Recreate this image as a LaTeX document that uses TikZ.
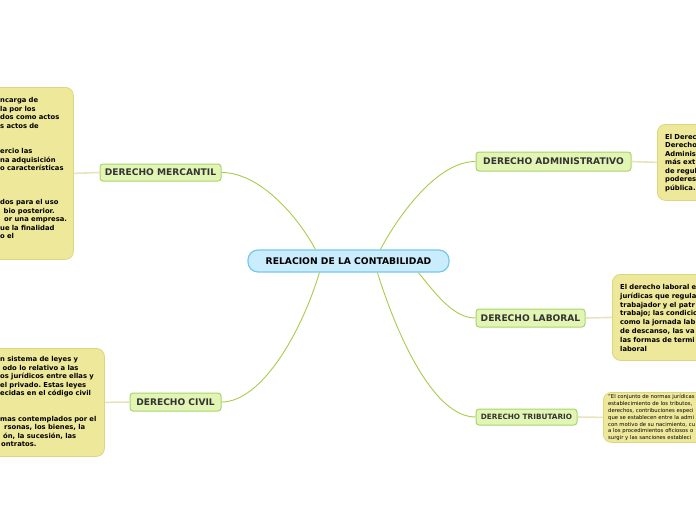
\documentclass[tikz,border=0pt]{standalone}
\usepackage{fontspec}
\setmainfont{DejaVu Sans}
\frenchspacing
\definecolor{cfill}{HTML}{C9EDFD}
\definecolor{cdraw}{HTML}{74C8F0}
\definecolor{bfill}{HTML}{E2F5B5}
\definecolor{bdraw}{HTML}{A9D46B}
\definecolor{nfill}{HTML}{EEE89A}
\definecolor{ndraw}{HTML}{DCD67E}
\definecolor{tcol}{HTML}{333333}
\definecolor{mainline}{HTML}{A8CC4A}
\definecolor{leafline}{HTML}{E6E4BC}
\tikzset{
  central/.style={draw=cdraw, fill=cfill, line width=1.2pt, rounded corners=10pt,
    minimum width=201pt, minimum height=22pt, inner sep=0pt, text=black,
    font=\fontsize{9.2}{10}\selectfont\bfseries},
  branch/.style={draw=bdraw, fill=bfill, line width=1pt, rounded corners=3pt,
    inner sep=0pt, text=tcol, font=\fontsize{9.1}{10}\selectfont\bfseries},
  notebox/.style={draw=ndraw, fill=nfill, line width=0.8pt, rounded corners=8pt,
    inner sep=0pt, anchor=north west},
  notetext/.style={inner sep=0pt, anchor=north west, align=left, text=black,
    text width=140pt, font=\fontsize{6.8}{8.5}\selectfont\bfseries},
  noteline/.style={inner sep=0pt, anchor=base west, text=black,
    font=\fontsize{6.8}{8.5}\selectfont\bfseries},
  smalltext/.style={inner sep=0pt, anchor=north west, align=left, text=black,
    text width=140pt, font=\fontsize{5.3}{6.8}\selectfont},
  mline/.style={draw=mainline, line width=0.9pt},
  lline/.style={draw=leafline, line width=1.6pt},
}
\begin{document}
\begin{tikzpicture}[x=1pt,y=-1pt]
\useasboundingbox (0,0) rectangle (696,520);
\clip (0,0) rectangle (696,520);

% note boxes
\node[notebox, minimum width=133pt, minimum height=172pt] (nmer) at (-60,87) {};
\node[notebox, minimum width=164pt, minimum height=108pt] (nciv) at (-60,348) {};
\node[notebox, minimum width=100pt, minimum height=76pt] (nadm) at (657,124) {};
\node[notebox, minimum width=120pt, minimum height=86pt] (nlab) at (612,274) {};
\node[notebox, minimum width=120pt, minimum height=50pt] (ntri) at (603,392) {};

% central and branches
\node[central] (c) at (348.5,261) {RELACION DE LA CONTABILIDAD};
\node[branch, minimum width=121pt, minimum height=17pt] (mer) at (160.5,172.5) {DERECHO MERCANTIL};
\node[branch, minimum width=91pt, minimum height=18pt] (civ) at (175.5,402) {DERECHO CIVIL};
\node[branch, minimum width=155pt, minimum height=19pt] (adm) at (553.5,161.5) {DERECHO ADMINISTRATIVO};
\node[branch, minimum width=109pt, minimum height=18pt] (lab) at (530.5,318) {DERECHO LABORAL};
\node[branch, minimum width=101pt, minimum height=16pt, font=\fontsize{7.3}{8}\selectfont\bfseries] (tri) at (526.5,417) {DERECHO TRIBUTARIO};

% main connectors
\draw[mline] ([xshift=68pt]c.north west) .. controls +(-16,-30) and +(40,0) .. (mer.east);
\draw[mline] ([xshift=133pt]c.north west) .. controls +(16,-30) and +(-40,0) .. (adm.west);
\draw[mline] ([xshift=171pt]c.south west) .. controls +(18,22) and +(-22,0) .. (lab.west);
\draw[mline] ([xshift=130pt]c.south west) .. controls +(22,70) and +(-40,0) .. (tri.west);
\draw[mline] ([xshift=72pt]c.south west) .. controls +(-18,60) and +(40,0) .. (civ.east);

% leaf connectors
\draw[lline] (mer.west) -- (nmer.east);
\draw[lline] (civ.west) -- (nciv.east);
\draw[lline] (adm.east) -- (nadm.west);
\draw[lline] (lab.east) -- (nlab.west);
\draw[lline] (tri.east) -- (ntri.west);

% note texts
\node[notetext] (tmer) at (0,97.5) {ncarga de\\la por los\\dos como actos\\s actos de\\\mbox{}\\\mbox{}\\ercio las\\na adquisición\\o características\\\mbox{}\\\mbox{}\\\mbox{}\\dos para el uso\\\mbox{}\\\mbox{}\\ue la finalidad\\o el};
\node[noteline] (tmer14) at (3.5,213.2) {bio posterior.};
\node[noteline] (tmer15) at (4,221.7) {or una empresa.};
\node[notetext] (tciv) at (0,356.5) {n sistema de leyes y\\\mbox{}\\os jurídicos entre ellas y\\el privado. Estas leyes\\ecidas en el código civil\\\mbox{}\\\mbox{}\\mas contemplados por el};
\node[noteline] (tciv2) at (2.5,370.2) {odo lo relativo a las};
\node[noteline] (tciv9) at (4,429.7) {rsonas, los bienes, la};
\node[noteline] (tciv10) at (3,438.2) {ón, la sucesión, las};
\node[noteline] (tciv11) at (1,446.7) {ontratos.};
\node[notetext] (tadm) at (665,134) {El Derec\\Derecho\\Adminis\\más ext\\de regul\\poderes\\pública.};
\node[notetext, font=\fontsize{6.8}{8.86}\selectfont\bfseries] (tlab) at (620,284) {El derecho laboral e\\jurídicas que regula\\trabajador y el patr\\trabajo; las condicio\\como la jornada lab\\de descanso, las va\\las formas de termi\\laboral};
\node[smalltext] (ttri) at (608,394.5) {"El conjunto de normas jurídicas\\establecimiento de los tributos,\\derechos, contribuciones especi\\que se establecen entre la admi\\con motivo de su nacimiento, cu\\a los procedimientos oficiosos o\\surgir y las sanciones estableci};
\end{tikzpicture}
\end{document}
